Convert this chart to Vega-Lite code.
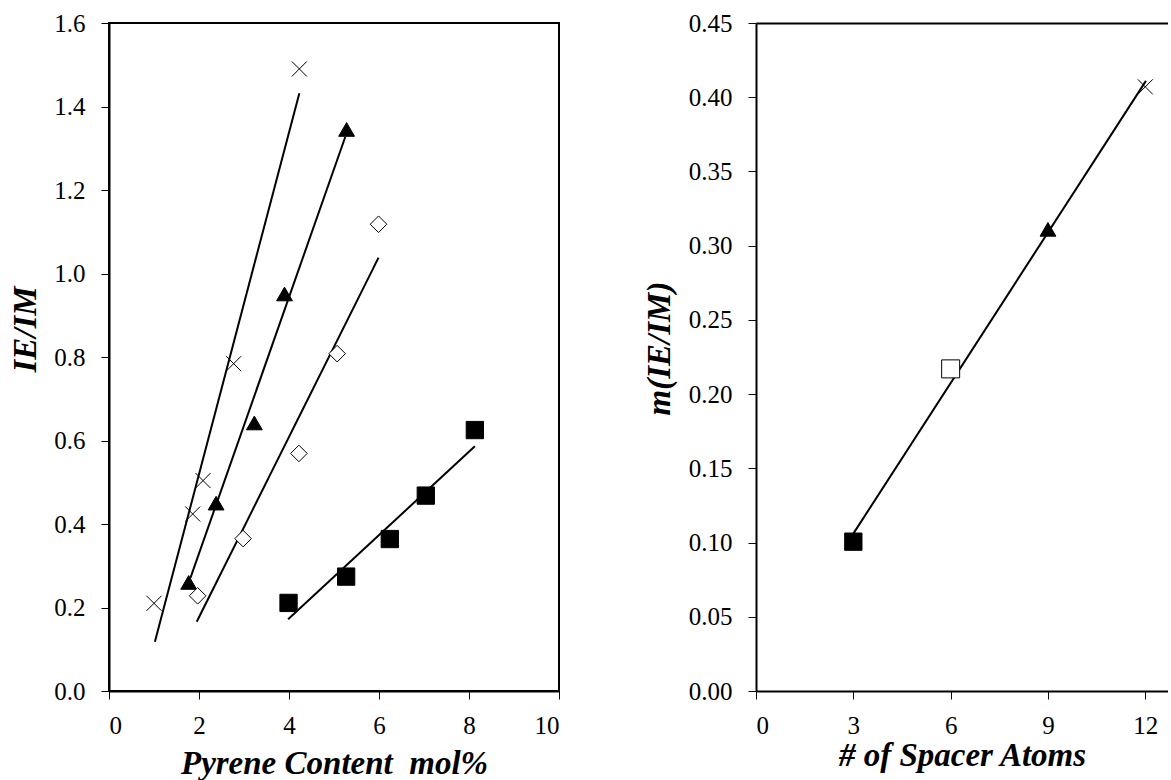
{
  "$schema": "https://vega.github.io/schema/vega-lite/v6.json",
  "padding": {"left": 8, "top": 10, "right": 0, "bottom": 0},
  "background": "white",
  "datasets": {
    "pts1": [
      {"series": "A", "x": 1.0, "y": 0.21},
      {"series": "A", "x": 1.86, "y": 0.424},
      {"series": "A", "x": 2.09, "y": 0.504},
      {"series": "A", "x": 2.77, "y": 0.784},
      {"series": "A", "x": 4.23, "y": 1.49},
      {"series": "B", "x": 1.77, "y": 0.26},
      {"series": "B", "x": 2.38, "y": 0.45},
      {"series": "B", "x": 3.23, "y": 0.642},
      {"series": "B", "x": 3.9, "y": 0.951},
      {"series": "B", "x": 5.28, "y": 1.345},
      {"series": "C", "x": 1.97, "y": 0.228},
      {"series": "C", "x": 2.98, "y": 0.365},
      {"series": "C", "x": 4.22, "y": 0.569},
      {"series": "C", "x": 5.07, "y": 0.808},
      {"series": "C", "x": 5.99, "y": 1.118},
      {"series": "D", "x": 3.99, "y": 0.211},
      {"series": "D", "x": 5.27, "y": 0.274},
      {"series": "D", "x": 6.24, "y": 0.364},
      {"series": "D", "x": 7.04, "y": 0.468},
      {"series": "D", "x": 8.13, "y": 0.625}
    ],
    "fit1": [
      {"series": "A", "x": 1.02, "y": 0.118},
      {"series": "A", "x": 4.23, "y": 1.432},
      {"series": "B", "x": 1.81, "y": 0.271},
      {"series": "B", "x": 5.25, "y": 1.327},
      {"series": "C", "x": 1.95, "y": 0.166},
      {"series": "C", "x": 5.99, "y": 1.038},
      {"series": "D", "x": 3.98, "y": 0.172},
      {"series": "D", "x": 8.13, "y": 0.586}
    ],
    "pts2": [
      {"series": "D", "x": 3, "y": 0.1006},
      {"series": "E", "x": 6, "y": 0.217},
      {"series": "B", "x": 9, "y": 0.311},
      {"series": "A", "x": 12, "y": 0.407}
    ],
    "fit2": [
      {"x": 3, "y": 0.106},
      {"x": 12.02, "y": 0.411}
    ]
  },
  "config": {
    "font": "Times New Roman",
    "view": {"stroke": null},
    "axis": {
      "labelFont": "Times New Roman",
      "labelFontSize": 25,
      "labelColor": "black",
      "titleFont": "Times New Roman",
      "titleFontSize": 33,
      "titleFontStyle": "italic",
      "titleFontWeight": "bold",
      "titleColor": "black",
      "domainColor": "black",
      "domainWidth": 2,
      "tickColor": "black",
      "tickWidth": 1,
      "tickSize": 8,
      "grid": false
    },
    "axisX": {"labelPadding": 14, "titlePadding": 9},
    "axisY": {"labelPadding": 16, "titlePadding": 11}
  },
  "spacing": 197,
  "bounds": "flush",
  "hconcat": [
    {
      "width": 450,
      "height": 668,
      "view": {"stroke": "black", "strokeWidth": 2},
      "layer": [
        {
          "data": {"name": "fit1"},
          "mark": {"type": "line", "color": "black", "strokeWidth": 2},
          "encoding": {
            "x": {"field": "x", "type": "quantitative", "scale": {"domain": [0, 10], "nice": false},
              "axis": {"values": [0, 2, 4, 6, 8, 10], "format": "d", "title": "Pyrene Content\u00a0 mol%"}},
            "y": {"field": "y", "type": "quantitative", "scale": {"domain": [0, 1.6], "nice": false},
              "axis": {"values": [0, 0.2, 0.4, 0.6, 0.8, 1.0, 1.2, 1.4, 1.6], "format": ".1f", "title": "IE/IM", "titleY": 306}},
            "detail": {"field": "series"}
          }
        },
        {
          "data": {"name": "pts1"},
          "mark": {"type": "point", "stroke": "black", "strokeWidth": 1, "opacity": 1},
          "encoding": {
            "x": {"field": "x", "type": "quantitative"},
            "y": {"field": "y", "type": "quantitative"},
            "shape": {"field": "series", "type": "nominal", "legend": null,
              "scale": {"domain": ["A", "B", "C", "D", "E"], "range": ["M-1,-1L1,1M-1,1L1,-1", "triangle-up", "diamond", "square", "square"]}},
            "fill": {"field": "series", "type": "nominal", "legend": null,
              "scale": {"domain": ["A", "B", "C", "D", "E"], "range": ["transparent", "black", "white", "black", "white"]}},
            "size": {"field": "series", "type": "nominal", "legend": null,
              "scale": {"domain": ["A", "B", "C", "D", "E"], "range": [225, 324, 270, 324, 300]}}
          }
        }
      ]
    },
    {
      "width": 412,
      "height": 668,
      "layer": [
        {
          "data": {"name": "fit2"},
          "mark": {"type": "line", "color": "black", "strokeWidth": 2},
          "encoding": {
            "x": {"field": "x", "type": "quantitative", "scale": {"domain": [0, 12.7], "nice": false},
              "axis": {"orient": "top", "labels": false, "ticks": false, "title": null, "domain": true}},
            "y": {"field": "y", "type": "quantitative", "scale": {"domain": [0, 0.45], "nice": false},
              "axis": {"values": [0, 0.05, 0.1, 0.15, 0.2, 0.25, 0.3, 0.35, 0.4, 0.45], "format": ".2f", "title": "m(IE/IM)", "titleY": 325, "titlePadding": 12}}
          }
        },
        {
          "data": {"name": "pts2"},
          "mark": {"type": "point", "stroke": "black", "strokeWidth": 1, "opacity": 1},
          "encoding": {
            "x": {"field": "x", "type": "quantitative",
              "axis": {"values": [0, 3, 6, 9, 12], "format": "d", "title": "# of Spacer Atoms", "titlePadding": 1}},
            "y": {"field": "y", "type": "quantitative"},
            "shape": {"field": "series", "type": "nominal", "legend": null,
              "scale": {"domain": ["A", "B", "C", "D", "E"], "range": ["M-1,-1L1,1M-1,1L1,-1", "triangle-up", "diamond", "square", "square"]}},
            "fill": {"field": "series", "type": "nominal", "legend": null,
              "scale": {"domain": ["A", "B", "C", "D", "E"], "range": ["transparent", "black", "white", "black", "white"]}},
            "size": {"field": "series", "type": "nominal", "legend": null,
              "scale": {"domain": ["A", "B", "C", "D", "E"], "range": [289, 256, 270, 324, 300]}}
          }
        }
      ],
      "resolve": {"axis": {"x": "independent"}}
    }
  ]
}
